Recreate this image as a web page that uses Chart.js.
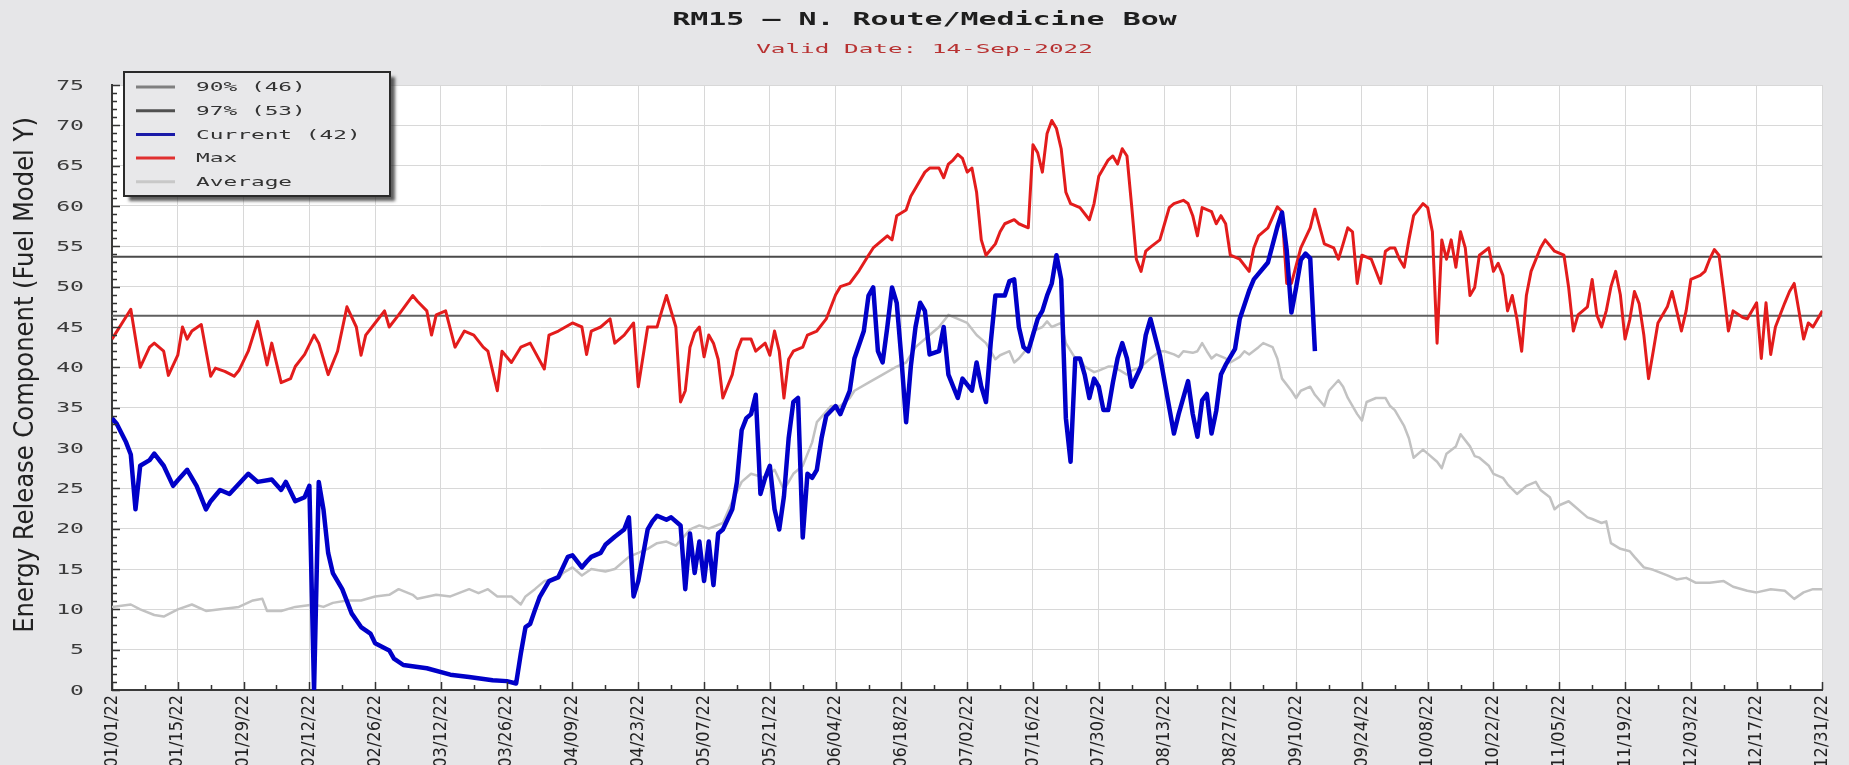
<!DOCTYPE html>
<html>
<head>
<meta charset="utf-8">
<title>RM15 ERC</title>
<script src="https://cdn.jsdelivr.net/npm/chart.js@4.4.1/dist/chart.umd.min.js"></script>
<style>
  html, body { margin: 0; padding: 0; background: #e6e6e8; overflow: hidden; }
  canvas { display: block; }
</style>
</head>
<body>
<canvas id="erc" width="1849" height="765"></canvas>
<script>
// ---- text ----
const chartTitle = 'RM15 \u2013 N. Route/Medicine Bow';
const validDate = 'Valid Date: 14-Sep-2022';
const yAxisTitle = 'Energy Release Component (Fuel Model Y)';

// ---- axes ----
const xTickLabels = ['01/01/22','01/15/22','01/29/22','02/12/22','02/26/22','03/12/22','03/26/22',
  '04/09/22','04/23/22','05/07/22','05/21/22','06/04/22','06/18/22','07/02/22','07/16/22',
  '07/30/22','08/13/22','08/27/22','09/10/22','09/24/22','10/08/22','10/22/22','11/05/22',
  '11/19/22','12/03/22','12/17/22','12/31/22'];
const tickStepDays = 14;
const yTickValues = [0, 5, 10, 15, 20, 25, 30, 35, 40, 45, 50, 55, 60, 65, 70, 75];

// ---- percentile thresholds ----
const percentile90 = 46.4;
const percentile97 = 53.7;

// ---- series: [day of year (0 = Jan 1), ERC] ----
const currentSeries = [[0,33.7],[1,33],[3,30.7],[4,29.2],[5,22.4],[6,27.8],[8,28.5],[9,29.3],[11,27.8],
  [13,25.3],[14,26],[16,27.3],[18,25.3],[20,22.4],[21,23.4],[23,24.8],[25,24.3],[29,26.8],[31,25.8],
  [34,26.1],[36,24.8],[37,25.8],[39,23.4],[41,23.9],[42,25.3],[43,0],[44,25.8],[45,22.4],[46,17],
  [47,14.5],[49,12.5],[51,9.5],[53,7.8],[55,7],[56,5.8],[59,4.9],[60,3.9],[62,3.1],[67,2.7],[72,1.9],
  [76,1.6],[81,1.2],[84,1.1],[86,0.8],[87,4.5],[88,7.8],[89,8.2],[90,9.9],[91,11.5],[92,12.5],
  [93,13.5],[95,14],[97,16.5],[98,16.7],[100,15.2],[101,15.9],[102,16.5],[104,17],[105,18],[107,19],
  [109,19.9],[110,21.4],[111,11.6],[112,13.5],[114,19.9],[115,20.9],[116,21.6],[118,21.1],[119,21.4],
  [121,20.4],[122,12.5],[123,19.4],[124,14.5],[125,18.4],[126,13.5],[127,18.4],[128,13],[129,19.4],
  [130,19.9],[132,22.4],[133,25.8],[134,32.2],[135,33.7],[136,34.2],[137,36.6],[138,24.3],[139,26.3],
  [140,27.8],[141,22.4],[142,19.9],[143,24],[144,31.2],[145,35.7],[146,36.2],[147,18.9],[148,26.8],
  [149,26.3],[150,27.3],[151,31.2],[152,34],[154,35.2],[155,34.2],[157,37.1],[158,41.1],[160,44.5],
  [161,48.9],[162,49.9],[163,42],[164,40.6],[165,45],[166,49.9],[167,48],[168,41.1],[169,33.2],
  [170,40.1],[171,45],[172,48],[173,47],[174,41.6],[176,42],[177,45],[178,39.1],[180,36.2],[181,38.6],
  [183,37.1],[184,40.6],[185,37.6],[186,35.7],[187,43],[188,48.9],[190,48.9],[191,50.7],[192,50.9],
  [193,45],[194,42.5],[195,42],[197,46],[198,47],[199,48.9],[200,50.4],[201,53.9],[202,50.9],
  [203,33.7],[204,28.3],[205,41.1],[206,41.1],[207,39.1],[208,36.2],[209,38.6],[210,37.6],[211,34.7],
  [212,34.7],[213,38.1],[214,41.1],[215,43],[216,41.1],[217,37.6],[219,40.1],[220,44],[221,46],
  [223,41.5],[225,35],[226,31.8],[227,34.2],[229,38.3],[230,34.2],[231,31.4],[232,35.9],[233,36.7],
  [234,31.8],[235,34.6],[236,39.1],[237,40.3],[239,42.3],[240,46],[242,49.5],[243,50.9],[246,53],
  [248,57.4],[249,59.2],[250,54.5],[251,46.8],[252,49.9],[253,53.3],[254,54.1],[255,53.5],[256,42]];

const maxSeries = [[0,43.5],[4,47.2],[6,40],[8,42.5],[9,43],[11,42],[12,39],[14,41.5],[15,45],[16,43.5],
  [17,44.5],[19,45.3],[21,38.9],[22,39.9],[24,39.5],[26,38.9],[27,39.6],[29,42],[31,45.7],[33,40.3],
  [34,43],[36,38.1],[38,38.6],[39,40.1],[41,41.6],[43,44],[44,43],[46,39.1],[48,42],[50,47.5],[52,45],
  [53,41.5],[54,44],[56,45.5],[58,47],[59,45],[61,46.5],[64,48.9],[65,48.2],[67,47],[68,44],[69,46.5],
  [71,47],[73,42.5],[75,44.5],[77,44],[79,42.5],[80,42],[82,37.1],[83,42],[85,40.6],[87,42.5],[89,43],
  [92,39.8],[93,44],[95,44.5],[98,45.5],[100,45],[101,41.6],[102,44.5],[104,45],[106,46],[107,43],
  [109,44],[111,45.5],[112,37.6],[114,45],[116,45],[117,47],[118,48.9],[120,45],[121,35.7],[122,37.1],
  [123,42.5],[124,44.3],[125,45],[126,41.3],[127,44],[128,43],[129,41],[130,36.2],[132,39.1],[133,42],
  [134,43.5],[136,43.5],[137,42],[139,43],[140,41.5],[141,44.5],[142,42],[143,36.2],[144,41],[145,42],
  [147,42.5],[148,44],[150,44.5],[152,46],[154,49],[155,50],[157,50.4],[159,52],[161,53.9],[162,54.8],
  [164,55.8],[165,56.3],[166,55.8],[167,58.8],[169,59.5],[170,61.2],[171,62.2],[173,64.2],[174,64.7],
  [176,64.7],[177,63.5],[178,65.2],[179,65.7],[180,66.4],[181,65.9],[182,64.2],[183,64.7],[184,61.7],
  [185,55.8],[186,53.9],[188,55.3],[189,56.8],[190,57.8],[192,58.3],[193,57.8],[195,57.3],[196,67.6],
  [197,66.6],[198,64.2],[199,69],[200,70.6],[201,69.6],[202,67.1],[203,61.7],[204,60.3],[206,59.8],
  [208,58.3],[209,60.3],[210,63.7],[212,65.7],[213,66.2],[214,65.2],[215,67.1],[216,66.2],[217,60],
  [218,53.4],[219,51.9],[220,54.4],[221,54.9],[223,55.8],[224,57.8],[225,59.8],[226,60.3],[228,60.7],
  [229,60.3],[230,58.8],[231,56.3],[232,59.8],[234,59.3],[235,57.8],[236,58.8],[237,57.8],[238,53.9],
  [240,53.4],[242,51.9],[243,54.8],[244,56.3],[246,57.3],[248,59.9],[249,59.3],[250,50.4],[251,50.4],
  [253,54.8],[255,57.3],[256,59.6],[258,55.3],[260,54.8],[261,53.4],[262,55.3],[263,57.3],[264,56.8],
  [265,50.4],[266,53.9],[268,53.4],[270,50.4],[271,54.4],[272,54.8],[273,54.8],[274,53.4],[275,52.4],
  [276,55.8],[277,58.8],[279,60.3],[280,59.8],[281,56.8],[282,43],[283,55.8],[284,53.4],[285,55.8],
  [286,52.4],[287,56.8],[288,54.8],[289,48.9],[290,49.9],[291,53.9],[293,54.8],[294,51.9],[295,52.9],
  [296,51.4],[297,47],[298,48.9],[299,46],[300,42],[301,48.9],[302,51.9],[304,54.8],[305,55.8],
  [307,54.4],[309,53.9],[310,49.9],[311,44.5],[312,46.5],[314,47.5],[315,50.9],[316,46.5],[317,45],
  [318,47],[319,50],[320,51.9],[321,49],[322,43.5],[323,45.9],[324,49.4],[325,47.9],[326,44],
  [327,38.6],[328,42],[329,45.5],[331,47.5],[332,49.4],[333,47],[334,44.5],[335,47],[336,50.9],
  [338,51.4],[339,51.9],[340,53.4],[341,54.6],[342,53.9],[343,49.4],[344,44.5],[345,47],[347,46.2],
  [348,46],[350,48],[351,41.1],[352,48],[353,41.6],[354,45],[356,48],[357,49.4],[358,50.4],[359,47],
  [360,43.5],[361,45.5],[362,45],[364,47]];

const averageSeries = [[0,10.3],[4,10.6],[6,10],[9,9.3],[11,9.1],[14,10],[17,10.6],[20,9.8],[23,10],
  [27,10.3],[30,11.1],[32,11.3],[33,9.8],[36,9.8],[39,10.3],[43,10.6],[45,10.3],[47,10.8],[50,11.1],
  [53,11.1],[56,11.6],[59,11.8],[61,12.5],[64,11.8],[65,11.3],[69,11.8],[72,11.6],[76,12.5],[78,12],
  [80,12.5],[82,11.6],[85,11.6],[87,10.6],[88,11.6],[90,12.5],[91,13],[92,13.5],[95,13.8],[96,14.5],
  [98,15.2],[100,14.2],[102,15],[105,14.7],[107,15],[108,15.5],[110,16.5],[114,17.5],[116,18.2],
  [118,18.4],[120,17.9],[122,19.2],[123,19.9],[125,20.4],[127,20],[130,20.7],[132,23.4],[134,25.8],
  [136,26.8],[139,26.3],[141,27.3],[143,24.8],[145,26.8],[147,27.8],[149,30.7],[150,33.2],[153,35.2],
  [155,35.2],[157,36.2],[158,37.1],[161,38.1],[164,39.1],[167,40.1],[169,40.6],[171,42.5],[174,44],
  [176,45],[178,46.5],[180,46],[182,45.5],[184,44],[186,43],[188,41],[189,41.5],[191,42],[192,40.6],
  [193,41.1],[195,42.5],[196,44.5],[198,45],[199,45.7],[200,45],[202,45.5],[203,43],[205,41.1],
  [206,41.1],[207,40.1],[209,39.4],[210,39.6],[212,40.1],[213,40.1],[214,39.8],[216,39.1],[217,39.6],
  [219,40.1],[220,40.6],[221,41.1],[223,42],[224,42],[226,41.6],[227,41.3],[228,42],[230,41.8],
  [231,42],[232,43],[233,42],[234,41.1],[235,41.6],[237,41.1],[238,40.6],[240,41.3],[241,42],
  [242,41.6],[244,42.5],[245,43],[247,42.5],[248,41.1],[249,38.6],[251,37.1],[252,36.2],[253,37.1],
  [255,37.6],[256,36.6],[258,35.2],[259,37.1],[261,38.4],[262,37.6],[263,36.2],[265,34.2],[266,33.4],
  [267,35.7],[269,36.2],[271,36.2],[272,35.2],[273,34.7],[275,32.7],[276,31.2],[277,28.8],[279,29.8],
  [280,29.3],[282,28.3],[283,27.5],[284,29.3],[286,30.2],[287,31.7],[289,30.2],[290,29],[291,28.8],
  [293,27.8],[294,26.8],[296,26.3],[297,25.5],[299,24.3],[300,24.8],[301,25.3],[303,25.8],[304,24.8],
  [306,23.9],[307,22.4],[308,22.9],[310,23.4],[311,22.9],[313,21.9],[314,21.4],[315,21.2],[317,20.7],
  [318,20.9],[319,18.2],[321,17.5],[323,17.2],[324,16.5],[326,15.2],[328,14.9],[331,14.2],[333,13.7],
  [335,13.9],[337,13.3],[340,13.3],[343,13.5],[345,12.8],[348,12.3],[350,12.1],[353,12.5],[356,12.3],
  [358,11.3],[360,12.1],[362,12.5],[364,12.5]];

// ---- build ----
const lastDay = (xTickLabels.length - 1) * tickStepDays;
const xTickDays = xTickLabels.map((_, i) => i * tickStepDays);
const toPoints = s => s.map(([d, v]) => ({ x: d, y: v }));
const flatLine = v => [{ x: 0, y: v }, { x: lastDay, y: v }];
const currentNow = currentSeries[currentSeries.length - 1][1];

const MONO = "'DejaVu Sans Mono', monospace";
const NARROW = "'Liberation Sans Narrow', 'DejaVu Sans Condensed', sans-serif";

// horizontally widened text, as drawn on the original station plots
function wideText(ctx, text, x, y, sx, align) {
  ctx.save();
  ctx.translate(x, y);
  ctx.scale(sx, 1);
  ctx.textAlign = align;
  ctx.fillText(text, 0, 0);
  ctx.restore();
}

const lineBase = { pointRadius: 0, tension: 0, fill: false, borderJoinStyle: 'round', borderCapStyle: 'butt' };

const datasets = [
  Object.assign({ label: `90% (${Math.floor(percentile90)})`, data: flatLine(percentile90),
    borderColor: '#5f5f5f', legendColor: '#808080', borderWidth: 2, order: 4 }, lineBase),
  Object.assign({ label: `97% (${Math.floor(percentile97)})`, data: flatLine(percentile97),
    borderColor: '#4a4a4a', legendColor: '#505050', borderWidth: 2, order: 3 }, lineBase),
  Object.assign({ label: `Current (${Math.floor(currentNow)})`, data: toPoints(currentSeries),
    borderColor: '#0000c8', legendColor: '#1a1aa8', borderWidth: 4.5, order: 1 }, lineBase),
  Object.assign({ label: 'Max', data: toPoints(maxSeries),
    borderColor: '#e31c1c', legendColor: '#e03030', borderWidth: 3, order: 2 }, lineBase),
  Object.assign({ label: 'Average', data: toPoints(averageSeries),
    borderColor: '#c2c2c2', legendColor: '#c8c8c8', borderWidth: 2.5, order: 5 }, lineBase)
];

const backdrop = {
  id: 'backdrop',
  beforeDraw(chart) {
    const { ctx, chartArea: a, width, height } = chart;
    ctx.save();
    ctx.fillStyle = '#e6e6e8';
    ctx.fillRect(0, 0, width, height);
    ctx.fillStyle = '#ffffff';
    ctx.fillRect(a.left, a.top, a.right - a.left, a.bottom - a.top);
    ctx.restore();
  }
};

const decorations = {
  id: 'decorations',
  afterDraw(chart) {
    const { ctx, chartArea: a, width } = chart;
    const xs = chart.scales.x, ys = chart.scales.y;
    ctx.save();

    // title + valid date
    ctx.textBaseline = 'middle';
    ctx.fillStyle = '#1e1e1e';
    ctx.font = `bold 17px ${MONO}`;
    wideText(ctx, chartTitle, width / 2, 21, 1.76, 'center');
    ctx.fillStyle = '#b83232';
    ctx.font = `13px ${MONO}`;
    wideText(ctx, validDate, width / 2, 50, 1.87, 'center');

    // y tick labels
    ctx.fillStyle = '#3a3a3a';
    ctx.font = `14px ${MONO}`;
    yTickValues.forEach(v => {
      wideText(ctx, String(v), a.left - 28, ys.getPixelForValue(v) + 1, 1.65, 'right');
    });

    // y axis title
    ctx.save();
    ctx.translate(26, 375);
    ctx.rotate(-Math.PI / 2);
    ctx.font = `27px ${NARROW}`;
    ctx.fillStyle = '#222222';
    ctx.textAlign = 'center';
    ctx.fillText(yAxisTitle, 0, 0);
    ctx.restore();

    // inner tick marks on both axes
    ctx.strokeStyle = '#333333';
    ctx.lineWidth = 1.5;
    ctx.beginPath();
    for (let v = ys.min; v <= ys.max; v += 1) {
      const y = Math.round(ys.getPixelForValue(v)) + 0.5;
      ctx.moveTo(a.left, y);
      ctx.lineTo(a.left + (v % 5 === 0 ? 8 : 5), y);
    }
    for (let d = 0; d <= lastDay; d += tickStepDays / 2) {
      const x = Math.round(xs.getPixelForValue(d)) + 0.5;
      ctx.moveTo(x, a.bottom);
      ctx.lineTo(x, a.bottom - (d % tickStepDays === 0 ? 8 : 5));
    }
    ctx.stroke();

    // legend box
    const lx = a.left + 12, ly = a.top - 13, lw = 266, lh = 124;
    ctx.save();
    ctx.shadowColor = 'rgba(40,40,40,0.75)';
    ctx.shadowOffsetX = 5;
    ctx.shadowOffsetY = 5;
    ctx.shadowBlur = 3;
    ctx.fillStyle = '#e8e8ea';
    ctx.fillRect(lx, ly, lw, lh);
    ctx.restore();
    ctx.strokeStyle = '#2a2a2a';
    ctx.lineWidth = 2;
    ctx.strokeRect(lx, ly, lw, lh);

    ctx.font = `12px ${MONO}`;
    ctx.textBaseline = 'middle';
    chart.data.datasets.forEach((ds, i) => {
      const ry = ly + 15 + i * 23.7;
      ctx.strokeStyle = ds.legendColor;
      ctx.lineWidth = 3;
      ctx.beginPath();
      ctx.moveTo(lx + 12, ry);
      ctx.lineTo(lx + 51, ry);
      ctx.stroke();
      ctx.fillStyle = '#333333';
      wideText(ctx, ds.label, lx + 72, ry + 1, 1.9, 'left');
    });

    ctx.restore();
  }
};

new Chart(document.getElementById('erc'), {
  type: 'line',
  data: { datasets },
  options: {
    responsive: false,
    animation: false,
    events: [],
    layout: { padding: { top: 85, left: 10, right: 13, bottom: 0 } },
    plugins: { legend: { display: false }, title: { display: false }, tooltip: { enabled: false } },
    scales: {
      x: {
        type: 'linear',
        min: 0,
        max: lastDay,
        afterBuildTicks: scale => { scale.ticks = xTickDays.map(v => ({ value: v })); },
        afterFit: scale => { scale.height = 75; },
        grid: { color: '#d8d8d8', lineWidth: 1, drawTicks: false },
        border: { display: true, color: '#3a3a3a', width: 2 },
        ticks: {
          autoSkip: false,
          maxRotation: 90,
          minRotation: 90,
          padding: 5,
          color: '#222222',
          font: { family: NARROW, size: 18 },
          callback: (value, index) => xTickLabels[index]
        }
      },
      y: {
        type: 'linear',
        min: 0,
        max: 75,
        afterFit: scale => { scale.width = 102; },
        grid: { color: '#d8d8d8', lineWidth: 1, drawTicks: false },
        border: { display: true, color: '#3a3a3a', width: 2 },
        ticks: { stepSize: 5, display: false }
      }
    }
  },
  plugins: [backdrop, decorations]
});
</script>
</body>
</html>
